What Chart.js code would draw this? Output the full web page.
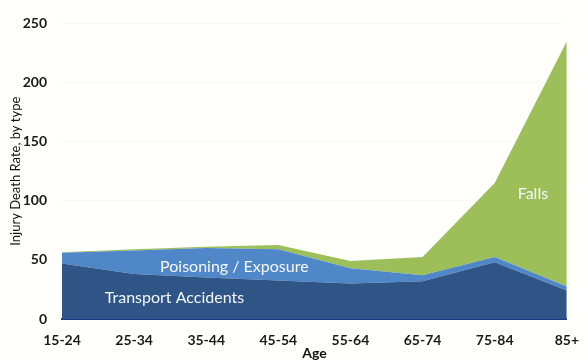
<!DOCTYPE html>
<html>
<head>
<meta charset="utf-8">
<script src="https://cdn.jsdelivr.net/npm/chart.js@4/dist/chart.umd.min.js"></script>
<style>
  html, body { margin: 0; padding: 0; background: #fffffb; overflow: hidden; }
  #wrap { width: 584px; height: 362px; }
</style>
</head>
<body>
<div id="wrap"><canvas id="injuryChart" width="584" height="362"></canvas></div>
<script>
var ageGroups = ["15-24", "25-34", "35-44", "45-54", "55-64", "65-74", "75-84", "85+"];
var transport = [47, 38, 35, 32.5, 30, 32, 48, 24];
var poisoning = [9, 20, 25, 26.5, 13, 5, 4.5, 3.5];
var falls = [0.5, 1, 1, 3.5, 6, 15.5, 62.5, 207.5];
var yTicks = [0, 50, 100, 150, 200, 250];

// white captions sitting inside each band (x as fractional category index)
var bandLabels = [
    { text: "Transport Accidents", at: 1.56, val: 18 },
    { text: "Poisoning / Exposure", at: 2.39, val: 44 },
    { text: "Falls", at: 6.53, val: 106 }
];

var bandText = {
    id: 'bandText',
    afterDatasetsDraw: function(chart) {
        var ctx = chart.ctx;
        var xs = chart.scales.x, ys = chart.scales.y;
        ctx.save();
        ctx.fillStyle = '#f4f7fb';
        ctx.font = '16px Lato';
        ctx.textAlign = 'center';
        ctx.textBaseline = 'middle';
        bandLabels.forEach(function(l) {
            var i = Math.floor(l.at), f = l.at - i;
            var x = xs.getPixelForValue(i) * (1 - f) + xs.getPixelForValue(i + 1) * f;
            ctx.fillText(l.text, x, ys.getPixelForValue(l.val));
        });
        ctx.restore();
    }
};

var ctx = document.getElementById('injuryChart').getContext('2d');
var injuryChart = new Chart(ctx, {
    type: 'line',
    data: {
        labels: ageGroups,
        datasets: [
            { label: 'Transport Accidents', data: transport, fill: 'origin',
              backgroundColor: '#2f5587', borderColor: '#2f5587', borderWidth: 0 },
            { label: 'Poisoning / Exposure', data: poisoning, fill: '-1',
              backgroundColor: '#4f87c8', borderColor: '#4f87c8', borderWidth: 0 },
            { label: 'Falls', data: falls, fill: '-1',
              backgroundColor: '#9dbf5a', borderColor: '#9dbf5a', borderWidth: 0 }
        ]
    },
    options: {
        responsive: false,
        animation: false,
        elements: { point: { radius: 0 }, line: { tension: 0 } },
        layout: { padding: { top: 4, right: 10, left: 4, bottom: 0 } },
        plugins: { legend: { display: false }, tooltip: { enabled: false } },
        scales: {
            x: {
                offset: false,
                grid: { display: false },
                border: { display: true, color: '#173a86', width: 2 },
                afterFit: function(axis) { axis.height = 43; },
                ticks: { color: '#1a1a1a', font: { family: 'Lato', size: 14, weight: 'bold' }, padding: 5, maxRotation: 0 },
                title: { display: true, text: 'Age', color: '#111', padding: { top: 0, bottom: 0 },
                         font: { family: 'Lato', size: 14, weight: 'bold' } }
            },
            y: {
                stacked: true,
                min: 0, max: 250,
                afterBuildTicks: function(axis) {
                    axis.ticks = yTicks.map(function(v) { return { value: v }; });
                },
                afterFit: function(axis) { axis.width = 58; },
                grid: { color: 'rgba(0,0,0,0.025)', drawTicks: false },
                border: { display: false },
                ticks: { color: '#1a1a1a', font: { family: 'Lato', size: 14, weight: 'bold' }, padding: 15 },
                title: { display: true, text: 'Injury Death Rate, by type', color: '#111',
                         font: { family: 'Lato', size: 13 }, padding: { top: 4, bottom: 0 } }
            }
        }
    },
    plugins: [bandText]
});
</script>
</body>
</html>
